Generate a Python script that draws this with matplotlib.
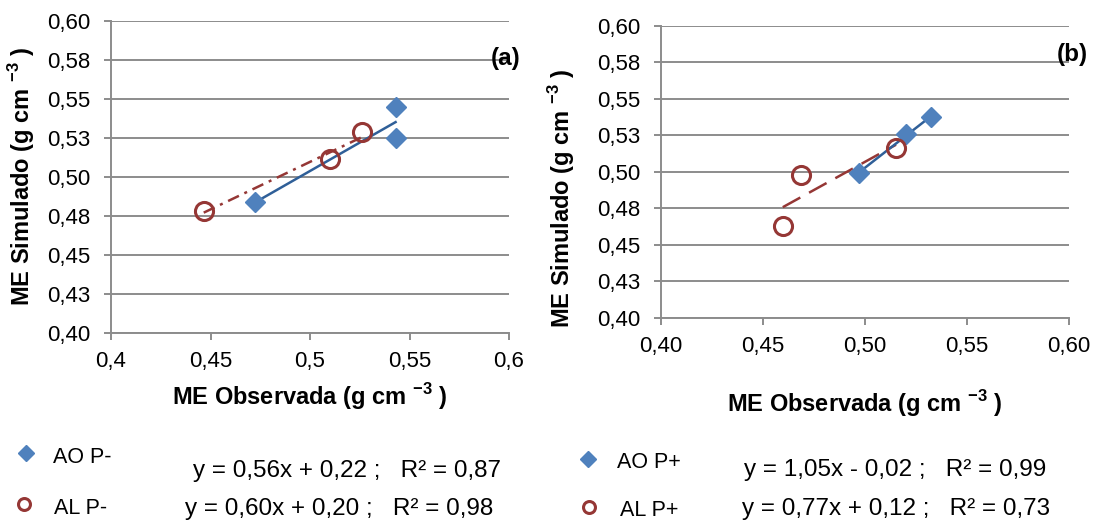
import numpy as np
import matplotlib.pyplot as plt
from matplotlib.ticker import FixedLocator

plt.rcParams['font.family'] = ['Liberation Sans', 'DejaVu Sans']
plt.rcParams['mathtext.fontset'] = 'custom'
plt.rcParams['mathtext.rm'] = 'Liberation Sans'
plt.rcParams['mathtext.bf'] = 'Liberation Sans:bold'

# panel (a) - P-
ao_pm_x = [0.5430, 0.5430, 0.4725]
ao_pm_y = [0.5450, 0.5250, 0.4836]
al_pm_x = [0.4466, 0.5098, 0.5259]
al_pm_y = [0.4778, 0.5113, 0.5286]

# panel (b) - P+
ao_pp_x = [0.5325, 0.5199, 0.4969]
ao_pp_y = [0.5375, 0.5258, 0.4990]
al_pp_x = [0.4597, 0.4686, 0.5152]
al_pp_y = [0.4632, 0.4976, 0.5162]

y_ticks = [0.400, 0.425, 0.450, 0.475, 0.500, 0.525, 0.550, 0.575, 0.600]
y_labels = ['0,40', '0,43', '0,45', '0,48', '0,50', '0,53', '0,55', '0,58', '0,60']
x_ticks = [0.40, 0.45, 0.50, 0.55, 0.60]
x_labels_a = ['0,4', '0,45', '0,5', '0,55', '0,6']
x_labels_b = ['0,40', '0,45', '0,50', '0,55', '0,60']

eq_a = ['y = 0,56x + 0,22 ;   R² = 0,87', 'y = 0,60x + 0,20 ;   R² = 0,98']
eq_b = ['y = 1,05x - 0,02 ;   R² = 0,99', 'y = 0,77x + 0,12 ;   R² = 0,73']

blue = '#4F81BD'
blue_line = '#2F5F98'
red = '#953735'
grid_c = '#8C8C8C'


def trend(ax, xs, ys, color, ls):
    k, b = np.polyfit(xs, ys, 1)
    xx = np.array([min(xs), max(xs)])
    ax.plot(xx, k * xx + b, color=color, lw=1.8, linestyle=ls, zorder=2)


def style_axes(ax, xlabels):
    ax.set_xlim(0.4, 0.6)
    ax.set_ylim(0.4, 0.6)
    ax.yaxis.set_major_locator(FixedLocator(y_ticks))
    ax.set_yticklabels(y_labels)
    ax.xaxis.set_major_locator(FixedLocator(x_ticks))
    ax.set_xticklabels(xlabels)
    ax.grid(axis='y', color=grid_c, lw=1.4)
    ax.set_axisbelow(True)
    for s in ['top', 'right']:
        ax.spines[s].set_visible(False)
    for s in ['left', 'bottom']:
        ax.spines[s].set_color(grid_c)
        ax.spines[s].set_linewidth(1.4)
    ax.tick_params(axis='both', length=5, width=1.4, color=grid_c,
                   labelsize=16)
    ax.tick_params(axis='y', pad=10)
    ax.tick_params(axis='x', pad=8)


fig = plt.figure(figsize=(10.99, 5.22), dpi=100)
ax1 = fig.add_axes([111 / 1099, 1 - 332.7 / 522, 398 / 1099, 312 / 522])
ax2 = fig.add_axes([661 / 1099, 1 - 317.7 / 522, 408 / 1099, 291.7 / 522])

xlab = 'ME Observada (g cm $^{\\mathbf{- 3}}$ )'
ylab = 'ME Simulado (g cm $^{\\mathbf{- 3}}$ )'

# (a)
style_axes(ax1, x_labels_a)
trend(ax1, al_pm_x, al_pm_y, red, (0, (4.8, 2.4, 1.2, 2.4)))
trend(ax1, ao_pm_x, ao_pm_y, blue_line, '-')
ax1.plot(ao_pm_x, ao_pm_y, 'D', color=blue, ms=10, mec=blue, zorder=3)
ax1.plot(al_pm_x, al_pm_y, 'o', mfc='none', mec=red, mew=2.2, ms=13, zorder=3)
ax1.set_xlabel(xlab, fontsize=17, fontweight='bold', va='baseline')
ax1.set_ylabel(ylab, fontsize=17, fontweight='bold', va='baseline')
ax1.xaxis.set_label_coords(0.5, -0.2317)
ax1.yaxis.set_label_coords(-0.2035, 0.5)
ax1.text(520 / 1099, 1 - 58 / 522, '(a)', transform=fig.transFigure,
         ha='right', va='center', fontsize=17.5, fontweight='bold')

# (b)
style_axes(ax2, x_labels_b)
trend(ax2, al_pp_x, al_pp_y, red, (0, (8, 4)))
trend(ax2, ao_pp_x, ao_pp_y, blue_line, '-')
ax2.plot(ao_pp_x, ao_pp_y, 'D', color=blue, ms=10, mec=blue, zorder=3)
ax2.plot(al_pp_x, al_pp_y, 'o', mfc='none', mec=red, mew=2.2, ms=13, zorder=3)
ax2.set_xlabel(xlab, fontsize=17, fontweight='bold', va='baseline')
ax2.set_ylabel(ylab, fontsize=17, fontweight='bold', va='baseline')
ax2.xaxis.set_label_coords(0.5, -0.3233)
ax2.yaxis.set_label_coords(-0.223, 0.41)
ax2.text(1088 / 1099, 1 - 55 / 522, '(b)', transform=fig.transFigure,
         ha='right', va='center', fontsize=17.5, fontweight='bold')


# legend / equations area
def px(x, y):
    return x / 1099, 1 - y / 522


def key(x, y, marker):
    if marker == 'D':
        ln = plt.Line2D([x / 1099], [1 - y / 522], marker='D', color=blue,
                        ms=8.5, transform=fig.transFigure)
    else:
        ln = plt.Line2D([x / 1099], [1 - y / 522], marker='o', mfc='none',
                        mec=red, mew=2.2, ms=8.6, transform=fig.transFigure)
    fig.lines.append(ln)


key(25.7, 452.7, 'D')
key(24, 504, 'o')
key(588, 459, 'D')
key(589, 507, 'o')

fig.text(*px(53, 462.7), 'AO P-', fontsize=15.5, va='baseline')
fig.text(*px(54, 514), 'AL P-', fontsize=15.5, va='baseline')
fig.text(*px(617, 468), 'AO P+', fontsize=15.5, va='baseline')
fig.text(*px(620, 516), 'AL P+', fontsize=15.5, va='baseline')
fig.text(*px(193, 476.7), eq_a[0], fontsize=17.5, va='baseline')
fig.text(*px(185, 515.5), eq_a[1], fontsize=17.5, va='baseline')
fig.text(*px(744, 476), eq_b[0], fontsize=17.5, va='baseline')
fig.text(*px(742, 515.5), eq_b[1], fontsize=17.5, va='baseline')

fig.savefig('out.png', dpi=100)
